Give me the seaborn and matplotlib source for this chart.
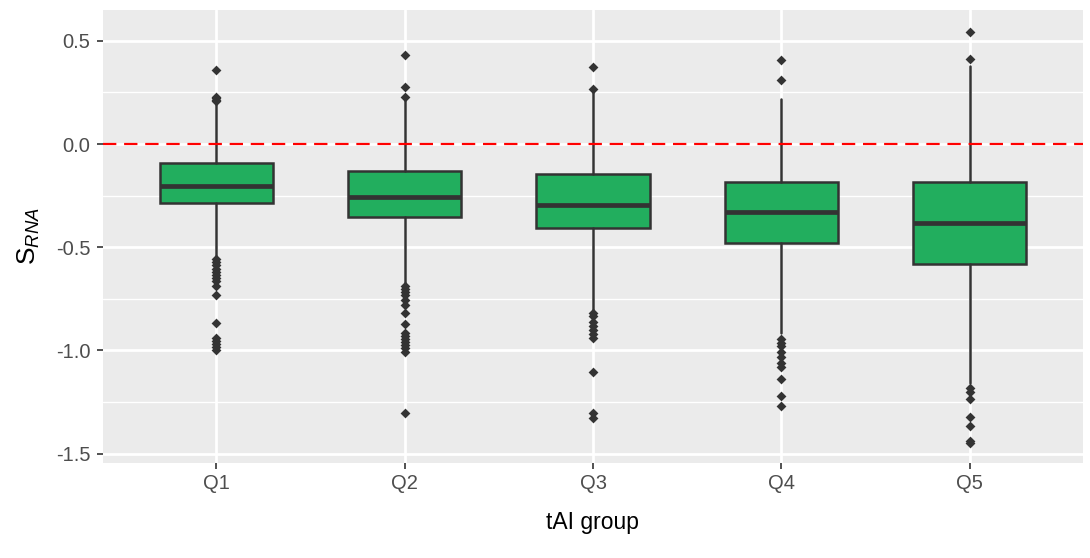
import numpy as np
import pandas as pd
import matplotlib
matplotlib.use("Agg")
import matplotlib.pyplot as plt
import seaborn as sns

# ---- data ----
groups = ["Q1", "Q2", "Q3", "Q4", "Q5"]
q1_vals = [-0.284, -0.352, -0.408, -0.481, -0.581]
medians = [-0.202, -0.258, -0.295, -0.331, -0.381]
q3_vals = [-0.090, -0.129, -0.145, -0.186, -0.186]
whisk_lo = [-0.545, -0.675, -0.805, -0.914, -1.156]
whisk_hi = [0.200, 0.212, 0.258, 0.218, 0.378]
fliers_q1 = [0.208, 0.215, 0.222, 0.228, 0.357,
             -0.557, -0.572, -0.588, -0.603, -0.618, -0.633, -0.648, -0.665,
             -0.690, -0.730, -0.868, -0.942, -0.956, -0.970, -0.985, -0.998]
fliers_q2 = [0.226, 0.277, 0.431,
             -0.686, -0.700, -0.716, -0.731, -0.756, -0.780, -0.820, -0.872,
             -0.915, -0.930, -0.945, -0.960, -0.975, -0.990, -1.005, -1.304]
fliers_q3 = [0.265, 0.374,
             -0.817, -0.835, -0.860, -0.880, -0.900, -0.920, -0.940,
             -1.103, -1.304, -1.328]
fliers_q4 = [0.308, 0.407,
             -0.946, -0.965, -0.980, -1.006, -1.033, -1.060, -1.078,
             -1.138, -1.219, -1.267]
fliers_q5 = [0.412, 0.541,
             -1.182, -1.199, -1.235, -1.320, -1.364, -1.440, -1.450]
fliers = [fliers_q1, fliers_q2, fliers_q3, fliers_q4, fliers_q5]
y_ticks = [-1.5, -1.0, -0.5, 0.0, 0.5]

# ---- style ----
sns.set_theme(style="darkgrid")
plt.rcParams["font.family"] = ["Liberation Sans", "DejaVu Sans"]
plt.rcParams["mathtext.fontset"] = "custom"
plt.rcParams["mathtext.rm"] = "Liberation Sans"
plt.rcParams["mathtext.it"] = "Liberation Sans:italic"

box_fill = "#22AE5E"
dark = "#333333"

fig = plt.figure(figsize=(10.9, 5.58), dpi=100)
ax = fig.add_axes([103 / 1090, 1 - 463 / 558, 980 / 1090, 453 / 558])
ax.set_facecolor("#EBEBEB")

# outliers via seaborn on the categorical axis
flier_df = pd.DataFrame({
    "group": [g for g, f in zip(groups, fliers) for _ in f],
    "value": [v for f in fliers for v in f],
})
sns.stripplot(data=flier_df, x="group", y="value", order=groups, jitter=False,
              color=dark, marker="D", size=5.0, linewidth=0, ax=ax, zorder=4)

# boxes from summary stats
stats = []
for i, g in enumerate(groups):
    stats.append(dict(label=g, q1=q1_vals[i], med=medians[i], q3=q3_vals[i],
                      whislo=whisk_lo[i], whishi=whisk_hi[i], fliers=[]))
ax.bxp(stats, positions=range(len(groups)), widths=0.6, patch_artist=True,
       showfliers=False, showcaps=False, manage_ticks=False,
       boxprops=dict(facecolor=box_fill, edgecolor=dark, linewidth=1.8),
       medianprops=dict(color=dark, linewidth=3.4, solid_capstyle="butt"),
       whiskerprops=dict(color=dark, linewidth=1.8),
       zorder=3)

# reference line
ax.axhline(0, color="#FF0000", linewidth=1.6, linestyle=(0, (6, 3.5)), zorder=3.5)

# axes
ax.set_xlim(-0.6, 4.6)
ax.set_ylim(-1.545, 0.649)
ax.set_xticks(range(len(groups)))
ax.set_xticklabels(groups)
ax.set_yticks(y_ticks)
ax.set_yticklabels([f"{t:.1f}" for t in y_ticks])
ax.set_yticks([-1.25, -0.75, -0.25, 0.25], minor=True)
ax.grid(True, which="major", color="white", linewidth=2.0)
ax.grid(True, which="minor", axis="y", color="white", linewidth=1.0)
ax.set_axisbelow(True)
for s in ax.spines.values():
    s.set_visible(False)
ax.tick_params(axis="both", which="major", length=4.5, width=1.2, color=dark,
               labelsize=14.5, labelcolor="#4D4D4D", bottom=True, left=True)
ax.tick_params(axis="x", pad=3.5)
ax.tick_params(axis="y", pad=4.5)
ax.tick_params(which="minor", length=0)

ax.set_xlabel("tAI group", fontsize=16.5, color="black")
ax.set_ylabel(r"S$_{RNA}$", fontsize=19, color="black")
ax.xaxis.set_label_coords(0.5, -0.105)
ax.yaxis.set_label_coords(-0.062, 0.5)

fig.savefig("out.png", dpi=100, facecolor="white")
